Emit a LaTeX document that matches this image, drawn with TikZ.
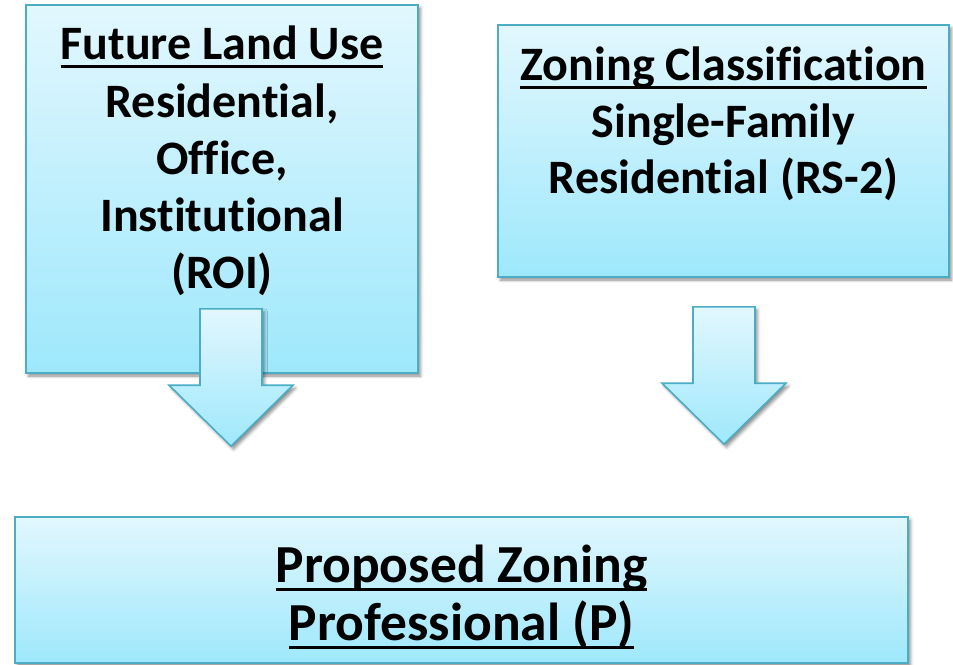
\documentclass[tikz,border=0pt]{standalone}
\usepackage{fontspec}
\setmainfont{Carlito}[RawFeature=-liga]
\usetikzlibrary{calc,shadows.blur}

\definecolor{edge}{RGB}{75,172,198}
\definecolor{filltop}{RGB}{226,247,254}
\definecolor{fillbot}{RGB}{158,232,252}

% underlined heading: a fixed rule below the baseline
\newcommand\ulin[1]{\setbox0\hbox{#1}\rlap{\rule[-8.5pt]{\wd0}{2.8pt}}\box0}

\tikzset{
  soft shadow/.style={blur shadow={shadow xshift=2.5pt,shadow yshift=-3pt,
      shadow blur radius=3pt,shadow opacity=45}},
  panel/.style={draw=edge,line width=1.6pt,top color=filltop,bottom color=fillbot,
      soft shadow,inner sep=0pt},
  arrowbody/.style={draw=edge,line width=1.6pt,line join=miter,top color=filltop,
      bottom color=fillbot,soft shadow},
  label/.style={font=\fontsize{48}{56}\bfseries\selectfont,anchor=base,inner sep=0pt},
  biglabel/.style={label,font=\fontsize{53.5}{60}\bfseries\selectfont},
}

% block arrow from a top centre (#1) down to a tip (#2)
\newcommand\blockarrow[2]{%
  \path[arrowbody] ($(#1)+(-31,0)$) -- ($(#1)+(31,0)$) -- ($(#2)+(31,-61)$)
    -- ($(#2)+(62,-61)$) -- (#2) -- ($(#2)+(-62,-61)$) -- ($(#2)+(-31,-61)$) -- cycle;}

\begin{document}
\begin{tikzpicture}[x=1pt,y=-1pt]
  \useasboundingbox (0,0) rectangle (953,664);

  % boxes
  \node[panel,minimum width=392pt,minimum height=368pt] (flu) at (222,189) {};
  \node[panel,minimum width=451pt,minimum height=252pt] (zc) at (723.5,151) {};
  \node[panel,minimum width=893pt,minimum height=146pt] (pz) at (461.5,590) {};

  % block arrows towards the proposed zoning box
  \coordinate (a1s) at ($(flu.south)+(9,-65)$);
  \coordinate (a1t) at ($(a1s |- pz.north)+(0,-70)$);
  \coordinate (a2s) at ($(zc.south)+(0.5,29)$);
  \coordinate (a2t) at ($(a2s |- pz.north)+(0,-72)$);
  \blockarrow{a1s}{a1t}
  \blockarrow{a2s}{a2t}

  % texts
  \node[label] (flu1) at (222,59)  {\ulin{Future Land Use}};
  \node[label] (flu2) at (222,117) {Residential,};
  \node[label] (flu3) at (222,174) {Office,};
  \node[label] (flu4) at (222,231) {Institutional};
  \node[label] (flu5) at (222,288) {(ROI)};

  \node[label] (zc1) at (723.5,80)  {\ulin{Zoning Classification}};
  \node[label] (zc2) at (723.5,137) {Single-Family};
  \node[label] (zc3) at (723.5,193) {Residential (RS-2)};

  \node[biglabel] (pz1) at (461.5,582) {\ulin{Proposed Zoning}};
  \node[biglabel] (pz2) at (461.5,640) {\ulin{Professional (P)}};
\end{tikzpicture}
\end{document}
